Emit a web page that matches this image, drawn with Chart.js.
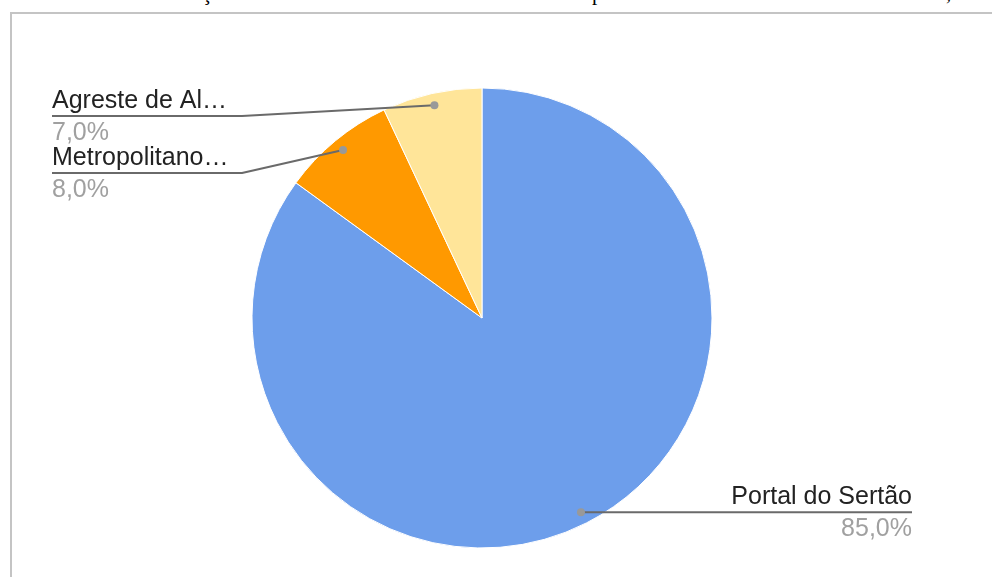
<!DOCTYPE html>
<html lang="pt-BR">
<head>
<meta charset="utf-8">
<title>Distribuição por território</title>
<script src="https://cdn.jsdelivr.net/npm/chart.js@4.4.1/dist/chart.umd.min.js"></script>
<style>
  html, body { margin: 0; padding: 0; background: #ffffff; overflow: hidden; }
  body { width: 992px; height: 577px; position: relative; }
  .caption span {
    position: absolute; top: -19px;
    font-family: "Liberation Serif", "DejaVu Serif", serif; font-size: 21px; color: #000;
    white-space: nowrap;
  }
  .frame {
    position: absolute; left: 10px; top: 12px; width: 1200px; height: 800px;
    border-top: 2px solid #c4c4c4; border-left: 2px solid #c4c4c4;
  }
  #chart { position: absolute; left: 0; top: 0; }
</style>
</head>
<body>
<div class="caption">
  <span style="left:202px">ção</span>
  <span style="left:592px">por</span>
  <span style="left:946px">,</span>
</div>
<div class="frame"></div>
<canvas id="chart" width="992" height="577"></canvas>
<script>
// Territórios e participação (%)
const categories = ['Portal do Sertão', 'Metropolitano…', 'Agreste de Al…'];
const shares = [85, 8, 7];
const sliceColors = ['#6d9eeb', '#ff9900', '#ffe599'];

function formatPercent(v, total) {
  return (v / total * 100).toFixed(1).replace('.', ',') + '%';
}

// Leader lines with name and percentage for each slice
const leaderLabels = {
  id: 'leaderLabels',
  afterDatasetsDraw(chart, args, opts) {
    const ctx = chart.ctx;
    const meta = chart.getDatasetMeta(0);
    const values = chart.data.datasets[0].data;
    const total = values.reduce((a, b) => a + b, 0);
    meta.data.forEach((arc, i) => {
      const p = arc.getProps(['x', 'y', 'startAngle', 'endAngle', 'outerRadius'], true);
      const mid = (p.startAngle + p.endAngle) / 2;
      const r = p.outerRadius - opts.dotInset;
      const dotX = p.x + Math.cos(mid) * r;
      const dotY = p.y + Math.sin(mid) * r;
      const lay = opts.layout[i];
      const label = chart.data.labels[i];
      const pct = formatPercent(values[i], total);

      ctx.save();
      ctx.strokeStyle = opts.lineColor;
      ctx.lineWidth = opts.lineWidth;
      ctx.lineJoin = 'round';
      let lineY;
      ctx.beginPath();
      if (lay.side === 'left') {
        lineY = lay.lineY;
        ctx.moveTo(dotX, dotY);
        ctx.lineTo(lay.elbowX, lineY);
        ctx.lineTo(lay.textX, lineY);
      } else {
        lineY = dotY;
        ctx.moveTo(dotX, dotY);
        ctx.lineTo(lay.textX, lineY);
      }
      ctx.stroke();

      ctx.fillStyle = opts.dotColor;
      ctx.beginPath();
      ctx.arc(dotX, dotY, opts.dotRadius, 0, Math.PI * 2);
      ctx.fill();

      ctx.font = opts.font;
      ctx.textBaseline = 'alphabetic';
      ctx.textAlign = lay.side === 'left' ? 'left' : 'right';
      ctx.fillStyle = opts.nameColor;
      ctx.fillText(label, lay.textX, lineY - 8);
      ctx.fillStyle = opts.pctColor;
      ctx.fillText(pct, lay.textX, lineY + 24);
      ctx.restore();
    });
  }
};

new Chart(document.getElementById('chart'), {
  type: 'pie',
  data: {
    labels: categories,
    datasets: [{
      data: shares,
      backgroundColor: sliceColors,
      borderColor: '#ffffff',
      borderWidth: 1
    }]
  },
  options: {
    responsive: false,
    animation: false,
    devicePixelRatio: 1,
    radius: 230,
    layout: { padding: { left: 0, right: 28, top: 59, bottom: 0 } },
    plugins: {
      legend: { display: false },
      tooltip: { enabled: false },
      leaderLabels: {
        dotInset: 12,
        dotRadius: 4,
        dotColor: '#999999',
        lineColor: '#6a6a6a',
        lineWidth: 2,
        font: '25px "Liberation Sans", Arial, sans-serif',
        nameColor: '#222222',
        pctColor: '#a0a0a0',
        layout: [
          { side: 'right', textX: 912 },
          { side: 'left', textX: 52, elbowX: 242, lineY: 173 },
          { side: 'left', textX: 52, elbowX: 242, lineY: 116 }
        ]
      }
    }
  },
  plugins: [leaderLabels]
});
</script>
</body>
</html>
